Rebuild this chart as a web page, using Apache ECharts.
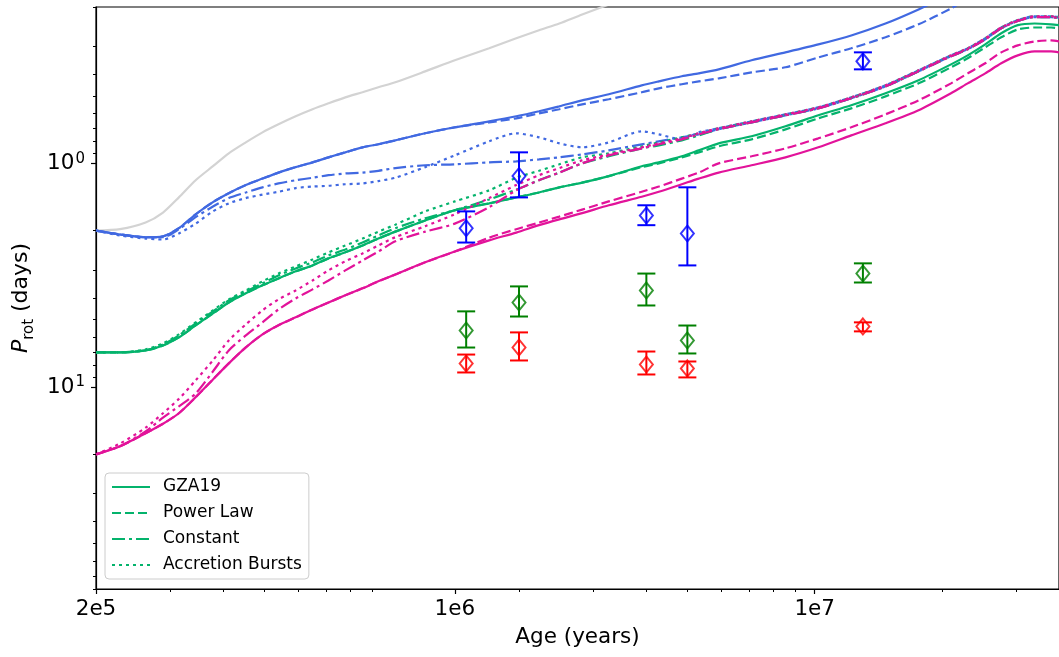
<!DOCTYPE html>
<html>
<head>
<meta charset="utf-8">
<script src="https://cdn.jsdelivr.net/npm/echarts@6/dist/echarts.min.js"></script>
<style>
  html, body { margin: 0; padding: 0; background: #fff; }
  #chart { width: 1059px; height: 657px; }
</style>
</head>
<body>
<div id="chart"></div>
<script>
// Stellar age grid (years) shared by all model tracks
const ages = [2.00e5, 2.28e5, 2.62e5, 2.88e5, 3.14e5, 3.44e5, 3.78e5, 4.12e5, 4.52e5, 4.95e5,
  5.40e5, 5.93e5, 6.50e5, 7.09e5, 7.77e5, 8.53e5, 9.30e5, 1.02e6, 1.20e6, 1.41e6,
  1.70e6, 1.97e6, 2.23e6, 2.49e6, 2.82e6, 3.26e6, 3.90e6, 4.28e6, 4.85e6, 5.32e6,
  5.93e6, 7.09e6, 8.53e6, 1.02e7, 1.22e7, 1.47e7, 1.76e7, 2.10e7, 2.30e7, 2.53e7,
  2.76e7, 3.02e7, 3.31e7, 3.62e7, 3.78e7];

// Reference track without disk locking (grey)
const refTrack = [2.0, 1.97, 1.84, 1.66, 1.42, 1.19, 1.03, 0.902, 0.806, 0.727, 0.669, 0.616, 0.573,
  0.539, 0.507, 0.481, 0.457, 0.434, 0.388, 0.346, 0.306, 0.276, 0.254, 0.237, 0.216, 0.195, 0.172];

// Initial period 2 d
const fastGZA = [2.0, 2.08, 2.14, 2.12, 1.95, 1.69, 1.49, 1.36, 1.25, 1.17, 1.10, 1.04, 0.990, 0.940,
  0.893, 0.848, 0.822, 0.789, 0.734, 0.690, 0.649, 0.616, 0.585, 0.556, 0.523, 0.491, 0.448, 0.430,
  0.408, 0.396, 0.380, 0.346, 0.319, 0.294, 0.268, 0.237, 0.205, 0.175];
const fastPower = [2.0, 2.08, 2.14, 2.12, 1.95, 1.69, 1.49, 1.36, 1.25, 1.17, 1.10, 1.04, 0.990, 0.940,
  0.893, 0.848, 0.822, 0.789, 0.734, 0.690, 0.656, 0.629, 0.598, 0.573, 0.545, 0.517, 0.481, 0.462,
  0.443, 0.430, 0.417, 0.392, 0.372, 0.336, 0.306, 0.273, 0.239, 0.203, 0.183];
const fastConst = [2.0, 2.08, 2.14, 2.14, 1.97, 1.74, 1.56, 1.43, 1.35, 1.28, 1.23, 1.19, 1.16, 1.13,
  1.11, 1.10, 1.08, 1.05, 1.02, 1.01, 0.990, 0.980, 0.960, 0.940, 0.912, 0.875, 0.822, 0.797, 0.765,
  0.742, 0.704, 0.656, 0.610, 0.568, 0.512, 0.453, 0.388, 0.332, 0.309, 0.279, 0.249, 0.231, 0.222,
  0.222, 0.224];
const fastBursts = [2.0, 2.10, 2.17, 2.19, 2.06, 1.86, 1.64, 1.51, 1.43, 1.38, 1.34, 1.29, 1.27, 1.26,
  1.24, 1.23, 1.20, 1.16, 1.04, 0.921, 0.797, 0.734, 0.765, 0.814, 0.848, 0.806, 0.719, 0.742, 0.781,
  0.727, 0.697, 0.649, 0.604, 0.562, 0.507, 0.448, 0.384, 0.329, 0.306, 0.276, 0.247, 0.229, 0.220,
  0.220, 0.222];

// Initial period 7 d
const midGZA = [7.0, 7.0, 6.86, 6.52, 6.00, 5.30, 4.69, 4.19, 3.81, 3.51, 3.27, 3.04, 2.86, 2.66, 2.50,
  2.33, 2.17, 2.02, 1.80, 1.62, 1.51, 1.42, 1.35, 1.28, 1.22, 1.14, 1.03, 0.990, 0.930, 0.875, 0.814,
  0.757, 0.683, 0.610, 0.550, 0.486, 0.425, 0.361, 0.329, 0.294, 0.262, 0.241, 0.237, 0.239, 0.241];
const midPower = [7.0, 7.0, 6.86, 6.52, 6.00, 5.30, 4.69, 4.19, 3.81, 3.51, 3.27, 3.04, 2.86, 2.66, 2.50,
  2.33, 2.17, 2.02, 1.80, 1.62, 1.51, 1.42, 1.35, 1.28, 1.22, 1.14, 1.04, 1.00, 0.940, 0.893, 0.839,
  0.781, 0.705, 0.629, 0.568, 0.502, 0.439, 0.372, 0.339, 0.303, 0.273, 0.252, 0.247, 0.247, 0.249];
const midConst = [7.0, 7.0, 6.86, 6.45, 5.88, 5.20, 4.59, 4.10, 3.74, 3.44, 3.17, 2.95, 2.77, 2.58, 2.43,
  2.26, 2.10, 1.95, 1.76, 1.62, 1.45, 1.31, 1.19, 1.10, 1.00, 0.930, 0.857, 0.831, 0.789, 0.750, 0.704,
  0.656, 0.610, 0.568, 0.512, 0.453, 0.388, 0.332, 0.309, 0.279, 0.249, 0.231, 0.222, 0.222, 0.224];
const midBursts = [7.0, 7.0, 6.79, 6.38, 5.82, 5.14, 4.54, 4.06, 3.70, 3.37, 3.11, 2.89, 2.69, 2.50, 2.33,
  2.17, 2.02, 1.88, 1.64, 1.48, 1.32, 1.16, 1.08, 1.01, 0.940, 0.902, 0.839, 0.806, 0.765, 0.734, 0.697,
  0.649, 0.604, 0.562, 0.507, 0.448, 0.384, 0.329, 0.306, 0.276, 0.247, 0.229, 0.220, 0.220, 0.222];

// Initial period 20 d
const slowGZA = [20.0, 18.4, 16.1, 14.6, 13.1, 11.1, 9.25, 7.84, 6.65, 5.82, 5.30, 4.88, 4.50, 4.19, 3.89,
  3.62, 3.37, 3.14, 2.77, 2.48, 2.21, 2.04, 1.89, 1.78, 1.67, 1.54, 1.41, 1.34, 1.24, 1.17, 1.10, 1.02,
  0.940, 0.848, 0.750, 0.662, 0.579, 0.486, 0.439, 0.396, 0.357, 0.329, 0.316, 0.316, 0.319];
const slowPower = [20.0, 18.4, 16.1, 14.6, 13.1, 11.1, 9.25, 7.84, 6.65, 5.82, 5.30, 4.88, 4.50, 4.19, 3.89,
  3.62, 3.37, 3.14, 2.77, 2.48, 2.15, 1.97, 1.84, 1.73, 1.61, 1.48, 1.34, 1.27, 1.17, 1.10, 1.00, 0.930,
  0.857, 0.773, 0.690, 0.604, 0.523, 0.439, 0.396, 0.357, 0.319, 0.297, 0.285, 0.282, 0.285];
const slowConst = [20.0, 18.4, 15.8, 13.7, 12.2, 10.7, 8.52, 6.86, 5.88, 5.14, 4.50, 4.02, 3.66, 3.34, 3.01,
  2.72, 2.48, 2.23, 2.02, 1.86, 1.57, 1.32, 1.19, 1.10, 1.00, 0.921, 0.857, 0.822, 0.781, 0.742, 0.704,
  0.656, 0.610, 0.568, 0.512, 0.453, 0.388, 0.332, 0.309, 0.279, 0.249, 0.231, 0.222, 0.222, 0.224];
const slowBursts = [20.0, 17.9, 15.2, 13.1, 11.3, 9.34, 7.60, 6.19, 5.25, 4.54, 4.06, 3.70, 3.34, 3.01, 2.74,
  2.53, 2.33, 2.14, 1.91, 1.69, 1.43, 1.25, 1.13, 1.05, 0.970, 0.912, 0.848, 0.814, 0.773, 0.734, 0.697,
  0.649, 0.604, 0.562, 0.507, 0.448, 0.384, 0.329, 0.306, 0.276, 0.247, 0.229, 0.220, 0.220, 0.222];

// Measured rotation periods with their error ranges
const obsAge = [1.5e6, 2.0e6, 4.0e6, 5.0e6, 1.3e7];
const obsBlue = [1.95, 1.14, 1.71, 2.06, 0.350];
const obsBlueLo = [1.64, 0.893, 1.54, 1.28, 0.319];
const obsBlueHi = [2.26, 1.42, 1.89, 2.86, 0.380];
const obsGreen = [5.59, 4.19, 3.70, 6.19, 3.11];
const obsGreenLo = [4.59, 3.55, 3.11, 5.31, 2.80];
const obsGreenHi = [6.66, 4.84, 4.32, 7.08, 3.41];
const obsRed = [7.85, 6.66, 7.93, 8.26, 5.36];
const obsRedLo = [7.16, 5.70, 6.94, 7.69, 5.14];
const obsRedHi = [8.61, 7.61, 8.79, 9.06, 5.64];

// Axis ranges and ticks
const AGE_MIN = 2e5, AGE_MAX = 3.78e7;
const P_MIN = 0.2, P_MAX = 80;
const xTickValues = [2e5, 1.41e6, 1e7];
const xTickLabels = ['2e5', '1e6', '1e7'];
const xMinorTicks = [3e5, 4e5, 5e5, 6e5, 7e5, 8e5, 9e5, 2e6, 3e6, 4e6, 5e6, 6e6, 7e6, 8e6, 9e6, 2e7, 3e7];
const yTickValues = [1, 10];
const yTickExponents = ['0', '1'];
const yMinorTicks = [0.2, 0.3, 0.4, 0.5, 0.6, 0.7, 0.8, 0.9, 2, 3, 4, 5, 6, 7, 8, 9, 20, 30, 40, 50, 60, 70, 80];

const FONT = 'DejaVu Sans';
const BLUE = '#4169e1', GREEN = '#04b36c', PINK = '#e2139a', GREY = '#d3d3d3';
const DASH = [9, 4], DASHDOT = [13, 4, 3, 4], DOT = [3, 4];
const lg = Math.log10;
const near = (v, arr) => arr.findIndex(t => Math.abs(lg(t) - v) < 1e-6);

function track(name, vals, color, type) {
  return {
    name, type: 'line', xAxisIndex: 0, yAxisIndex: 0,
    data: vals.map((p, i) => [ages[i], p]),
    showSymbol: false, symbol: 'none', smooth: 0.25,
    lineStyle: { color, width: 2.2, type, cap: 'butt' },
    itemStyle: { color },
    emphasis: { disabled: true }, z: 2
  };
}

function errorBars(name, lo, hi, color) {
  return {
    name, type: 'custom', xAxisIndex: 0, yAxisIndex: 0, z: 5,
    data: obsAge.map((a, i) => [a, lo[i], hi[i]]),
    encode: { x: 0, y: [1, 2] },
    renderItem: (params, api) => {
      const a = api.coord([api.value(0), api.value(1)]);
      const b = api.coord([api.value(0), api.value(2)]);
      const w = 9;
      const style = { stroke: color, lineWidth: 2, fill: null };
      return {
        type: 'group', children: [
          { type: 'line', shape: { x1: a[0], y1: a[1], x2: b[0], y2: b[1] }, style },
          { type: 'line', shape: { x1: a[0] - w, y1: a[1], x2: a[0] + w, y2: a[1] }, style },
          { type: 'line', shape: { x1: b[0] - w, y1: b[1], x2: b[0] + w, y2: b[1] }, style }
        ]
      };
    }
  };
}

function markers(name, vals, color) {
  return {
    name, type: 'scatter', xAxisIndex: 0, yAxisIndex: 0, z: 6,
    data: obsAge.map((a, i) => [a, vals[i]]),
    symbol: 'diamond', symbolSize: [13, 16],
    itemStyle: { color: 'rgba(0,0,0,0)', borderColor: color, borderWidth: 2 },
    emphasis: { disabled: true }
  };
}

const tickLine = { color: '#000', width: 1.2 };
const minorLine = { color: '#000', width: 1 };

const option = {
  animation: false,
  backgroundColor: '#fff',
  textStyle: { fontFamily: FONT },
  grid: { left: 96, right: -2, top: 7, bottom: 68, show: true, borderColor: '#000', borderWidth: 1.2, backgroundColor: 'transparent' },
  legend: {
    data: ['GZA19', 'Power Law', 'Constant', 'Accretion Bursts'],
    orient: 'vertical', left: 105, top: 473,
    padding: [5, 7, 5, 6], itemGap: 8, itemWidth: 38, itemHeight: 14,
    backgroundColor: 'rgba(255,255,255,0.85)', borderColor: '#cccccc', borderWidth: 1, borderRadius: 4,
    itemStyle: { color: 'rgba(0,0,0,0)', borderColor: 'rgba(0,0,0,0)', borderWidth: 0, opacity: 0 },
    textStyle: { fontFamily: FONT, fontSize: 17, color: '#000', lineHeight: 18, padding: [0, 0, 0, 8] },
    selectedMode: false
  },
  xAxis: [
    { type: 'log', min: AGE_MIN, max: AGE_MAX, show: false },
    {
      type: 'value', min: lg(AGE_MIN), max: lg(AGE_MAX), position: 'bottom',
      splitLine: { show: false },
      axisLine: { show: true, onZero: false, lineStyle: tickLine },
      axisTick: { show: true, customValues: xTickValues.map(lg), length: 5, lineStyle: tickLine },
      axisLabel: {
        customValues: xTickValues.map(lg), margin: 9, color: '#000', fontFamily: FONT, fontSize: 21.5,
        formatter: v => { const i = near(v, xTickValues); return i >= 0 ? xTickLabels[i] : ''; }
      },
      name: 'Age (years)', nameLocation: 'middle', nameGap: 37,
      nameTextStyle: { fontFamily: FONT, fontSize: 21.5, color: '#000' }
    },
    {
      type: 'value', min: lg(AGE_MIN), max: lg(AGE_MAX), position: 'bottom',
      splitLine: { show: false }, axisLine: { show: false, onZero: false },
      axisTick: { show: true, customValues: xMinorTicks.map(lg), length: 3, lineStyle: minorLine },
      axisLabel: { show: false }
    }
  ],
  yAxis: [
    { type: 'log', min: P_MIN, max: P_MAX, inverse: true, show: false },
    {
      type: 'value', min: lg(P_MIN), max: lg(P_MAX), inverse: true, position: 'left',
      splitLine: { show: false },
      axisLine: { show: true, onZero: false, lineStyle: tickLine },
      axisTick: { show: true, customValues: yTickValues.map(lg), length: 5, lineStyle: tickLine },
      axisLabel: {
        customValues: yTickValues.map(lg), margin: 11, color: '#000',
        formatter: v => { const i = near(v, yTickValues); return i >= 0 ? '{b|10}{e|' + yTickExponents[i] + '}' : ''; },
        rich: {
          b: { fontFamily: FONT, fontSize: 21.5, color: '#000', lineHeight: 28, verticalAlign: 'middle' },
          e: { fontFamily: FONT, fontSize: 15, color: '#000', lineHeight: 28, verticalAlign: 'top', padding: [2, 0, 0, 1] }
        }
      },
      name: '{i|P}{s|rot}{t| (days)}', nameLocation: 'middle', nameRotate: 90, nameGap: 55,
      nameTextStyle: {
        rich: {
          i: { fontFamily: FONT, fontStyle: 'italic', fontSize: 22, color: '#000', lineHeight: 30, verticalAlign: 'middle' },
          s: { fontFamily: FONT, fontSize: 15, color: '#000', lineHeight: 30, verticalAlign: 'bottom' },
          t: { fontFamily: FONT, fontSize: 22, color: '#000', lineHeight: 30, verticalAlign: 'middle' }
        }
      }
    },
    {
      type: 'value', min: lg(P_MIN), max: lg(P_MAX), inverse: true, position: 'left',
      splitLine: { show: false }, axisLine: { show: false, onZero: false },
      axisTick: { show: true, customValues: yMinorTicks.map(lg), length: 3, lineStyle: minorLine },
      axisLabel: { show: false }
    }
  ],
  series: [
    track('No locking', refTrack, GREY, 'solid'),
    track('GZA19 2d', fastGZA, BLUE, 'solid'),
    track('Power Law 2d', fastPower, BLUE, DASH),
    track('Constant 2d', fastConst, BLUE, DASHDOT),
    track('Accretion Bursts 2d', fastBursts, BLUE, DOT),
    track('GZA19', midGZA, GREEN, 'solid'),
    track('Power Law', midPower, GREEN, DASH),
    track('Constant', midConst, GREEN, DASHDOT),
    track('Accretion Bursts', midBursts, GREEN, DOT),
    track('GZA19 20d', slowGZA, PINK, 'solid'),
    track('Power Law 20d', slowPower, PINK, DASH),
    track('Constant 20d', slowConst, PINK, DASHDOT),
    track('Accretion Bursts 20d', slowBursts, PINK, DOT),
    errorBars('err blue', obsBlueLo, obsBlueHi, '#0000ff'),
    errorBars('err green', obsGreenLo, obsGreenHi, '#008000'),
    errorBars('err red', obsRedLo, obsRedHi, '#ff0000'),
    markers('obs blue', obsBlue, '#0000ff'),
    markers('obs green', obsGreen, '#008000'),
    markers('obs red', obsRed, '#ff0000')
  ]
};

const chart = echarts.init(document.getElementById('chart'), null, { renderer: 'canvas' });
chart.setOption(option);
</script>
</body>
</html>
